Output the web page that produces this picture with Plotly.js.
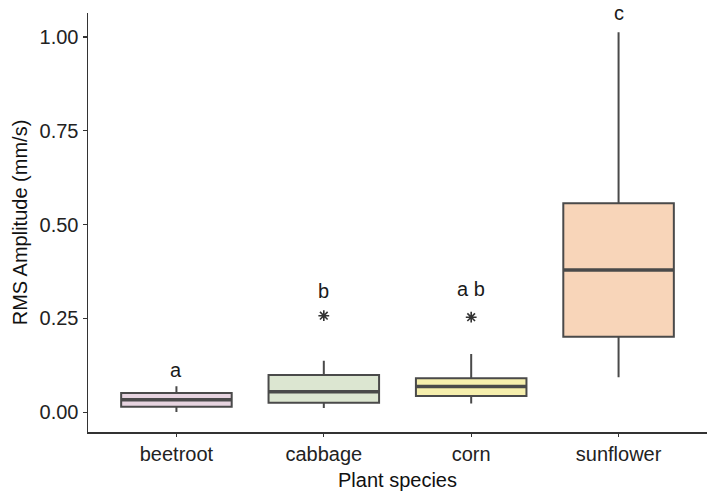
<!DOCTYPE html>
<html>
<head>
<meta charset="utf-8">
<script src="https://cdn.plot.ly/plotly-3.0.1.min.js"></script>
<style>
  html, body { margin: 0; padding: 0; background: #fff; }
  #chart { width: 709px; height: 496px; }
</style>
</head>
<body>
<div id="chart"></div>
<script>
const species = ["beetroot", "cabbage", "corn", "sunflower"];
const lowerFence = [0.0, 0.011, 0.023, 0.093];
const q1 = [0.014, 0.025, 0.043, 0.201];
const median = [0.033, 0.054, 0.068, 0.379];
const q3 = [0.051, 0.099, 0.090, 0.557];
const upperFence = [0.069, 0.137, 0.155, 1.013];
const outlierSpecies = ["cabbage", "corn"];
const outlierValues = [0.257, 0.253];
const letters = ["a", "b", "a b", "c"];
const letterY = [0.112, 0.323, 0.328, 1.064];
const fills = ["#e7d4e0", "#dce6d1", "#f6efad", "#f8d5b9"];

const lineColor = "#4a4a4a";
const boxWidth = 0.75;

const traces = species.map((s, i) => ({
  type: "box",
  x: [s],
  q1: [q1[i]],
  median: [median[i]],
  q3: [q3[i]],
  lowerfence: [lowerFence[i]],
  upperfence: [upperFence[i]],
  width: boxWidth,
  whiskerwidth: 0,
  fillcolor: fills[i],
  line: { color: lineColor, width: 2 },
  boxpoints: false,
  hoverinfo: "skip",
  showlegend: false
}));

traces.push({
  type: "scatter",
  mode: "markers",
  x: outlierSpecies,
  y: outlierValues,
  marker: { symbol: "asterisk-open", size: 9, color: "#333", line: { color: "#333", width: 1.6 } },
  showlegend: false,
  hoverinfo: "skip"
});

// thicker median bars, like ggplot
const medianShapes = species.map((s, i) => ({
  type: "line", xref: "x", yref: "y",
  x0: i - boxWidth / 2, x1: i + boxWidth / 2,
  y0: median[i], y1: median[i],
  line: { color: lineColor, width: 3.5 }
}));

const letterNotes = species.map((s, i) => ({
  x: s, y: letterY[i], xref: "x", yref: "y",
  text: letters[i], showarrow: false, yanchor: "middle",
  font: { size: 20, color: "#1a1a1a" }
}));

const layout = {
  width: 709, height: 496,
  margin: { l: 88, r: 2, t: 13, b: 64 },
  paper_bgcolor: "#fff",
  plot_bgcolor: "#fff",
  font: { family: "Liberation Sans, Arial, sans-serif", color: "#222" },
  showlegend: false,
  xaxis: {
    type: "category",
    categoryorder: "array",
    categoryarray: species,
    range: [-0.6, 3.6],
    showline: true, linecolor: "#333", linewidth: 1.5,
    ticks: "outside", ticklen: 3, tickcolor: "#333", tickwidth: 1.2,
    tickfont: { size: 20, color: "#222" },
    showgrid: false, zeroline: false,
    title: { text: "Plant species", font: { size: 20, color: "#111" }, standoff: 9 }
  },
  yaxis: {
    range: [-0.053, 1.064],
    tickvals: [0, 0.25, 0.5, 0.75, 1.0],
    ticktext: ["0.00", "0.25", "0.50", "0.75", "1.00"],
    showline: true, linecolor: "#333", linewidth: 1.5,
    ticks: "outside", ticklen: 4, tickcolor: "#333", tickwidth: 1.2,
    tickfont: { size: 20, color: "#222" },
    showgrid: false, zeroline: false,
    title: { text: "RMS Amplitude (mm/s)", font: { size: 20, color: "#111" }, standoff: 6 }
  },
  shapes: medianShapes,
  annotations: letterNotes
};

Plotly.newPlot("chart", traces, layout, { displayModeBar: false, staticPlot: true });
</script>
</body>
</html>
